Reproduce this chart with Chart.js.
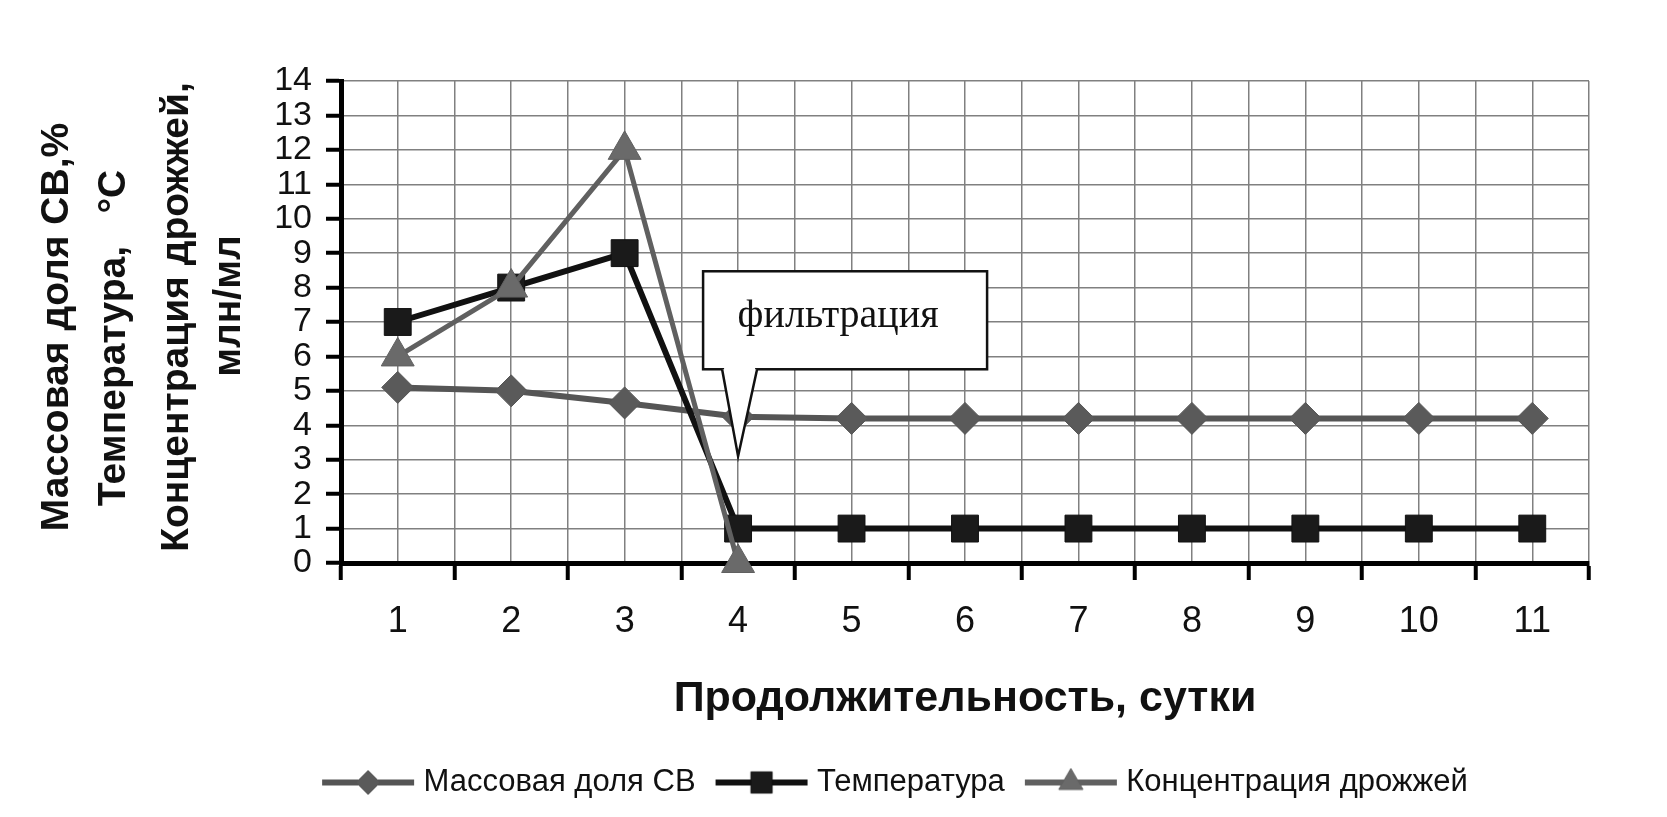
<!DOCTYPE html>
<html>
<head>
<meta charset="utf-8">
<script src="https://cdn.jsdelivr.net/npm/chart.js@4/dist/chart.umd.min.js"></script>
<style>
  html, body { margin: 0; padding: 0; background: #fff; }
  #chart { display: block; }
</style>
</head>
<body>
<canvas id="chart" width="1667" height="817"></canvas>
<script>
// days of fermentation
var days = [1, 2, 3, 4, 5, 6, 7, 8, 9, 10, 11];

// series
var dryMatter = [5.1, 5.0, 4.65, 4.25, 4.2, 4.2, 4.2, 4.2, 4.2, 4.2, 4.2];
var temperature = [7, 8, 9, 1, 1, 1, 1, 1, 1, 1, 1];
var yeast = [6, 8, 12, 0, null, null, null, null, null, null, null];

var seriesNames = ['Массовая доля СВ', 'Температура', 'Концентрация дрожжей'];
var yTitleLines = ['Массовая доля СВ,%', 'Температура,   °С', 'Концентрация дрожжей,', 'млн/мл'];
var xTitle = 'Продолжительность, сутки';

// callout
var noteText = 'фильтрация';
var noteDay = 4;
var noteLevel = 3.1;

var FONT = 'Arial, "Liberation Sans", sans-serif';

function points(vals) {
  return days.map(function (d, i) { return { x: d, y: vals[i] }; });
}

// legend symbol: short line with the marker in the middle
function legendSymbol(lineColor, fillColor, style, radius) {
  var c = document.createElement('canvas');
  c.width = 96;
  c.height = 36;
  var g = c.getContext('2d');
  g.strokeStyle = lineColor;
  g.lineWidth = 6;
  g.beginPath();
  g.moveTo(2, 18);
  g.lineTo(94, 18);
  g.stroke();
  g.fillStyle = fillColor;
  g.strokeStyle = lineColor;
  g.lineWidth = 1;
  Chart.helpers.drawPoint(g, { pointStyle: style, radius: radius, rotation: 0, borderWidth: 1 }, 48, 18);
  return c;
}

var symbols = [
  legendSymbol('#555', '#5a5a5a', 'rectRot', 12),
  legendSymbol('#111', '#1a1a1a', 'rect', 15),
  legendSymbol('#606060', '#6a6a6a', 'triangle', 14)
];

var yTitlePlugin = {
  id: 'yTitle',
  afterDraw: function (chart) {
    var ctx = chart.ctx;
    var xs = [57, 114, 177, 229];
    var ys = [327, 338, 317, 306];
    ctx.save();
    ctx.fillStyle = '#111';
    ctx.font = 'bold 39px ' + FONT;
    ctx.textAlign = 'center';
    ctx.textBaseline = 'middle';
    yTitleLines.forEach(function (t, i) {
      ctx.save();
      ctx.translate(xs[i], ys[i]);
      ctx.rotate(-Math.PI / 2);
      ctx.fillText(t, 0, 0);
      ctx.restore();
    });
    ctx.restore();
  }
};

var notePlugin = {
  id: 'note',
  afterDatasetsDraw: function (chart) {
    var ctx = chart.ctx;
    var tx = chart.scales.x.getPixelForValue(noteDay);
    var ty = chart.scales.y.getPixelForValue(noteLevel);
    var left = tx - 35, right = tx + 249, top = ty - 185, bottom = ty - 87;
    ctx.save();
    ctx.fillStyle = '#fff';
    ctx.strokeStyle = '#111';
    ctx.lineWidth = 2.5;
    ctx.fillRect(left, top, right - left, bottom - top);
    ctx.strokeRect(left, top, right - left, bottom - top);
    // pointer
    ctx.beginPath();
    ctx.moveTo(tx - 16, bottom);
    ctx.lineTo(tx, ty);
    ctx.lineTo(tx + 19, bottom);
    ctx.closePath();
    ctx.fill();
    ctx.beginPath();
    ctx.moveTo(tx - 16, bottom);
    ctx.lineTo(tx, ty);
    ctx.lineTo(tx + 19, bottom);
    ctx.stroke();
    ctx.fillRect(tx - 14, bottom - 2, 31, 4);
    ctx.fillStyle = '#111';
    ctx.font = '40px "Liberation Serif", "Times New Roman", serif';
    ctx.textAlign = 'center';
    ctx.textBaseline = 'middle';
    ctx.fillText(noteText, tx + 100, ty - 140);
    ctx.restore();
  }
};

new Chart(document.getElementById('chart'), {
  type: 'line',
  data: {
    datasets: [
      {
        label: seriesNames[0],
        data: points(dryMatter),
        borderColor: '#555',
        backgroundColor: '#5a5a5a',
        borderWidth: 6,
        pointStyle: 'rectRot',
        pointRadius: 16,
        pointBorderWidth: 1,
        order: 2
      },
      {
        label: seriesNames[1],
        data: points(temperature),
        borderColor: '#111',
        backgroundColor: '#1a1a1a',
        borderWidth: 6,
        pointStyle: 'rect',
        pointRadius: 19,
        pointBorderWidth: 1,
        order: 1
      },
      {
        label: seriesNames[2],
        data: points(yeast),
        borderColor: '#606060',
        backgroundColor: '#6a6a6a',
        borderWidth: 5,
        pointStyle: 'triangle',
        pointRadius: 19,
        pointBorderWidth: 1,
        order: 0
      }
    ]
  },
  options: {
    responsive: false,
    devicePixelRatio: 1,
    animation: false,
    clip: false,
    layout: { padding: { left: 207, right: 78, top: 81, bottom: 9 } },
    plugins: {
      tooltip: { enabled: false },
      legend: {
        position: 'bottom',
        labels: {
          usePointStyle: true,
          pointStyleWidth: 80,
          padding: 26,
          color: '#111',
          font: { family: FONT, size: 31 },
          sort: function (a, b) { return a.datasetIndex - b.datasetIndex; },
          generateLabels: function (chart) {
            var items = Chart.defaults.plugins.legend.labels.generateLabels(chart);
            items.forEach(function (it) { it.pointStyle = symbols[it.datasetIndex]; });
            return items;
          }
        }
      }
    },
    scales: {
      x: {
        type: 'linear',
        min: 0.5,
        max: 11.5,
        afterFit: function (s) { s.height = 178; },
        ticks: {
          stepSize: 0.5,
          autoSkip: false,
          maxRotation: 0,
          padding: 20,
          color: '#111',
          font: { family: FONT, size: 36 },
          callback: function (v) { return Number.isInteger(v) ? String(v) : ''; }
        },
        grid: {
          color: '#808080',
          lineWidth: 1.5,
          tickLength: 17,
          tickWidth: 4,
          tickColor: function (c) { return Number.isInteger(c.tick.value) ? 'rgba(0,0,0,0)' : '#000'; }
        },
        border: { color: '#000', width: 5 },
        title: {
          display: true,
          text: xTitle,
          color: '#111',
          font: { family: FONT, size: 43, weight: 'bold' },
          padding: { top: 0, bottom: 16 }
        }
      },
      y: {
        min: 0,
        max: 14,
        afterFit: function (s) { s.width = 134; },
        ticks: {
          stepSize: 1,
          autoSkip: false,
          padding: 14,
          color: '#111',
          font: { family: FONT, size: 34 }
        },
        grid: {
          color: '#808080',
          lineWidth: 1.5,
          tickLength: 15,
          tickWidth: 4,
          tickColor: '#000'
        },
        border: { color: '#000', width: 5 }
      }
    }
  },
  plugins: [yTitlePlugin, notePlugin]
});
</script>
</body>
</html>
